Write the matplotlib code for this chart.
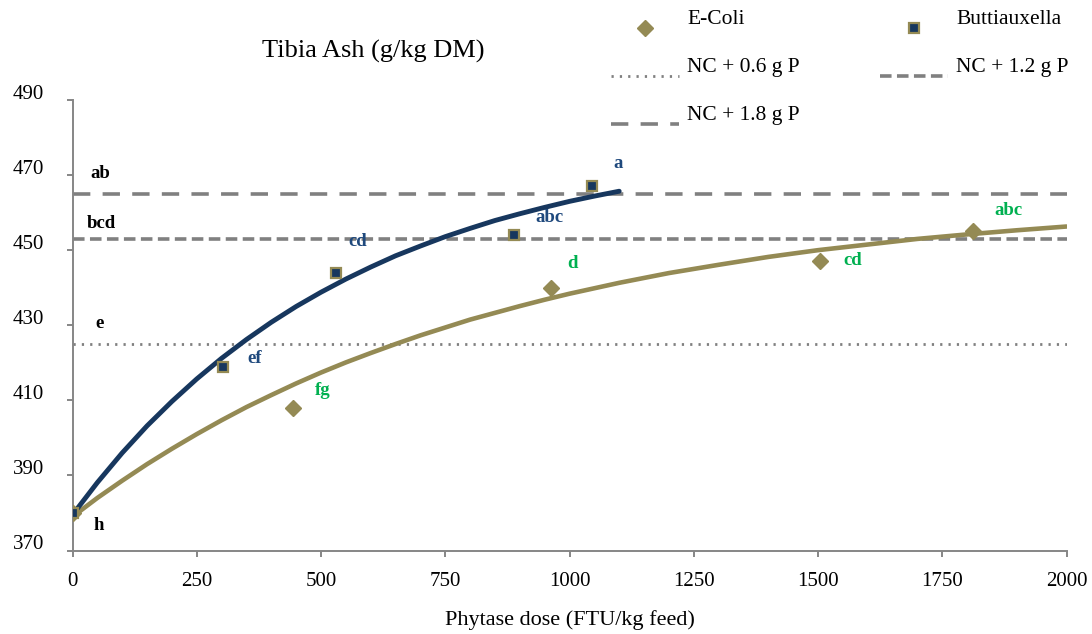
import matplotlib

matplotlib.use("Agg")
import matplotlib.pyplot as plt
import matplotlib.transforms as mtransforms
from matplotlib.legend_handler import HandlerLine2D
from matplotlib.lines import Line2D

# measured means
ecoli_dose = [0, 443, 962, 1505, 1811]
ecoli_ash = [380, 408, 440, 447, 455]
butt_dose = [0, 302, 530, 888, 1046]
butt_ash = [380, 419, 444, 454, 467]

# fitted response curves
butt_fit_dose = [0, 50, 100, 150, 200, 250, 300, 350, 400, 450, 500, 550,
                 600, 650, 700, 750, 800, 850, 900, 950, 1000, 1050, 1100]
butt_fit_ash = [379.5, 388.1, 396.0, 403.2, 409.7, 415.7, 421.2, 426.2, 430.8,
                435.0, 438.8, 442.3, 445.5, 448.5, 451.1, 453.6, 455.8, 457.9,
                459.7, 461.4, 463.0, 464.4, 465.7]
ecoli_fit_dose = [0, 50, 100, 150, 200, 250, 300, 350, 400, 450, 500, 550,
                  600, 650, 700, 750, 800, 850, 900, 950, 1000, 1100, 1200,
                  1300, 1400, 1500, 1600, 1700, 1800, 1900, 2000]
ecoli_fit_ash = [379.0, 384.0, 388.6, 393.0, 397.1, 401.0, 404.7, 408.2, 411.4,
                 414.5, 417.4, 420.1, 422.6, 425.0, 427.3, 429.4, 431.5, 433.3,
                 435.1, 436.8, 438.4, 441.3, 443.9, 446.1, 448.2, 450.0, 451.5,
                 453.0, 454.2, 455.3, 456.3]

# positive control references
control_labels = ["NC + 0.6 g P", "NC + 1.2 g P", "NC + 1.8 g P"]
control_ash = [425, 453, 465]
control_span = [0, 2000]

# significance letters: (text, dose, ash)
letters_control = [("ab", 55, 470.3), ("bcd", 58, 457.2), ("e", 55, 430.5), ("h", 52, 376.7)]
letters_butt = [("a", 1097, 473.2), ("abc", 959, 458.7), ("cd", 573, 452.2), ("ef", 366, 421.2)]
letters_ecoli = [("fg", 503, 412.5), ("d", 1007, 446.5), ("cd", 1569, 447.2), ("abc", 1884, 460.6)]

NAVY = "#17375E"
OLIVE = "#948A54"
GREY = "#808080"
AXIS_GREY = "#868686"
LETTER_BLUE = "#1F497D"
LETTER_GREEN = "#00B050"
SERIF = ["Liberation Serif", "DejaVu Serif"]

plt.rcParams["font.family"] = SERIF


class ShiftedHandler(HandlerLine2D):
    """Draw legend handles a little below the label's centre line."""

    def create_artists(self, legend, orig_handle, xdescent, ydescent,
                       width, height, fontsize, trans):
        return super().create_artists(legend, orig_handle, xdescent,
                                      ydescent + 16, width, height,
                                      fontsize, trans)


fig = plt.figure(figsize=(10.92, 6.34), dpi=100)
W, H = 1092, 634
ax = fig.add_axes([72.5 / W, 1 - 550.5 / H, (1066.5 - 72.5) / W, (550.5 - 100) / H])

control_styles = [
    dict(linestyle=(0, (0.8, 2.2)), linewidth=2.0),
    dict(linestyle=(0, (3.2, 1.5)), linewidth=2.6),
    dict(linestyle=(0, (4.8, 3.4)), linewidth=2.6),
]
control_handles = []
for label, level, style in zip(control_labels, control_ash, control_styles):
    (ln,) = ax.plot(control_span, [level, level], color=GREY, label=label,
                    zorder=2, **style)
    control_handles.append(ln)

ax.plot(ecoli_fit_dose, ecoli_fit_ash, color=OLIVE, linewidth=3.3,
        solid_capstyle="round", solid_joinstyle="round", zorder=3)
ax.plot(butt_fit_dose, butt_fit_ash, color=NAVY, linewidth=3.5,
        solid_capstyle="round", solid_joinstyle="round", zorder=4)

(ecoli_pts,) = ax.plot(ecoli_dose, ecoli_ash, linestyle="none", marker="D",
                       markersize=8, color=OLIVE, label="E-Coli", zorder=5)
(butt_pts,) = ax.plot(butt_dose, butt_ash, linestyle="none", marker="s",
                      markersize=7.8, markerfacecolor=NAVY,
                      markeredgecolor=OLIVE, markeredgewidth=1.6,
                      label="Buttiauxella", zorder=6)

for items, color in ((letters_control, "black"), (letters_butt, LETTER_BLUE),
                     (letters_ecoli, LETTER_GREEN)):
    for text, x, y in items:
        ax.text(x, y, text, color=color, fontsize=13.5, fontweight="bold",
                ha="center", va="center", zorder=7)

ax.set_xlim(0, 2000)
ax.set_ylim(370, 490)
ax.set_xticks([0, 250, 500, 750, 1000, 1250, 1500, 1750, 2000])
ax.set_yticks([370, 390, 410, 430, 450, 470, 490])
ax.spines[["top", "right"]].set_visible(False)
for side in ("left", "bottom"):
    ax.spines[side].set_color(AXIS_GREY)
    ax.spines[side].set_linewidth(1.4)
ax.tick_params(axis="both", colors=AXIS_GREY, width=1.4, length=4.5,
               labelcolor="black", labelsize=15)
ax.tick_params(axis="y", pad=16)
ax.tick_params(axis="x", pad=11)

# y labels sit slightly above their ticks
lift = mtransforms.ScaledTranslation(0, 6 / 72, fig.dpi_scale_trans)
for lbl in ax.get_yticklabels():
    lbl.set_transform(lbl.get_transform() + lift)

ax.set_xlabel("Phytase dose (FTU/kg feed)", fontsize=16, labelpad=14)
fig.text(372.8 / W, 1 - 58 / H, "Tibia Ash (g/kg DM)", fontsize=19,
         ha="center", va="baseline")

handles = [ecoli_pts, control_handles[0], control_handles[2],
           butt_pts, control_handles[1]]
leg = fig.legend(handles=handles, labels=[h.get_label() for h in handles],
                 ncol=2, loc="upper left", bbox_to_anchor=(611 / W, 1 - 9 / H),
                 frameon=False, fontsize=15.5, numpoints=1,
                 handlelength=3.15, handletextpad=0.4, columnspacing=3.7,
                 labelspacing=1.3, borderpad=0, borderaxespad=0,
                 handler_map={Line2D: ShiftedHandler()})

fig.savefig("out.png", dpi=100)
